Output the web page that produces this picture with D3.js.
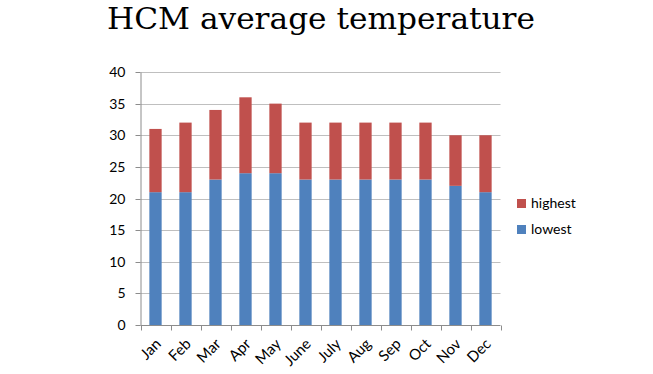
<!DOCTYPE html>
<html>
<head>
<meta charset="utf-8">
<script src="https://cdn.jsdelivr.net/npm/d3@7"></script>
<style>
  body { margin: 0; background: #fff; }
  text { font-family: Lato, "Liberation Sans", sans-serif; }
</style>
</head>
<body>
<script>
// chart data
var months = ["Jan", "Feb", "Mar", "Apr", "May", "June", "July", "Aug", "Sep", "Oct", "Nov", "Dec"];
var lowest = [21, 21, 23, 24, 24, 23, 23, 23, 23, 23, 22, 21];
var highest = [31, 32, 34, 36, 35, 32, 32, 32, 32, 32, 30, 30];
var yTicks = [0, 5, 10, 15, 20, 25, 30, 35, 40];

var width = 653,
    height = 374;

var svg = d3.select("body").append("svg")
    .attr("width", width)
    .attr("height", height);

// plot area
var plotLeft = 140.5, plotRight = 500.5, plotTop = 72, plotBottom = 325;

var x = d3.scaleBand()
    .domain(months)
    .range([plotLeft, plotRight])
    .paddingInner(0.59)
    .paddingOuter(0.295);

var y = d3.scaleLinear()
    .domain([0, 40])
    .range([plotBottom, plotTop]);

// title
svg.append("text")
    .attr("x", 321)
    .attr("y", 29)
    .attr("text-anchor", "middle")
    .style("font-family", "'DejaVu Serif', 'Liberation Serif', serif")
    .style("font-size", "30px")
    .attr("textLength", 428)
    .attr("lengthAdjust", "spacingAndGlyphs")
    .attr("fill", "#000")
    .text("HCM average temperature");

// gridlines
svg.append("g")
    .selectAll("line")
    .data(yTicks.filter(function(d){ return d > 0; }))
  .enter()
    .append("line")
    .attr("x1", plotLeft)
    .attr("x2", plotRight)
    .attr("y1", function(d){ return Math.round(y(d)) + 0.5; })
    .attr("y2", function(d){ return Math.round(y(d)) + 0.5; })
    .attr("stroke", "#bfbfbf")
    .attr("stroke-width", 1);

// y axis
var yAxis = svg.append("g")
    .attr("transform", "translate(" + plotLeft + ",0)")
    .call(d3.axisLeft(y).tickValues(yTicks).tickSize(5).tickSizeOuter(0).tickPadding(10));
yAxis.select(".domain").attr("stroke", "#8c8c8c");
yAxis.selectAll(".tick line").attr("stroke", "#8c8c8c");
yAxis.selectAll(".tick").attr("transform", function(d){
    return "translate(0," + (Math.round(y(d)) + 0.5) + ")";
});
yAxis.selectAll("text")
    .style("font-family", "Lato, 'Liberation Sans', sans-serif")
    .style("font-size", "14px")
    .attr("fill", "#000");

// stacked bars
var stackData = months.map(function(m, i){
    return { month: m, lowest: lowest[i], highest: highest[i] - lowest[i] };
});
var series = d3.stack().keys(["lowest", "highest"])(stackData);
var color = { lowest: "#4f81bd", highest: "#c0504d" };

svg.append("g")
    .selectAll("g")
    .data(series)
  .enter()
    .append("g")
    .attr("fill", function(d){ return color[d.key]; })
  .selectAll("rect")
    .data(function(d){ return d; })
  .enter()
    .append("rect")
    .attr("x", function(d){ return x(d.data.month); })
    .attr("width", x.bandwidth())
    .attr("y", function(d){ return y(d[1]); })
    .attr("height", function(d){ return y(d[0]) - y(d[1]); });

// x axis with ticks at category boundaries
var xAxis = svg.append("g")
    .attr("transform", "translate(0," + (plotBottom + 0.5) + ")");
xAxis.append("line")
    .attr("x1", plotLeft)
    .attr("x2", plotRight)
    .attr("stroke", "#8c8c8c");
var step = (plotRight - plotLeft) / months.length;
xAxis.selectAll("line.tick")
    .data(d3.range(months.length + 1))
  .enter()
    .append("line")
    .attr("class", "tick")
    .attr("x1", function(d){ return Math.round(plotLeft + d * step) + 0.5; })
    .attr("x2", function(d){ return Math.round(plotLeft + d * step) + 0.5; })
    .attr("y1", 0)
    .attr("y2", 5)
    .attr("stroke", "#8c8c8c");
xAxis.selectAll("text")
    .data(months)
  .enter()
    .append("text")
    .attr("transform", function(d){
        return "translate(" + (x(d) + x.bandwidth() / 2 - 1) + ",12) rotate(-45)";
    })
    .attr("text-anchor", "end")
    .attr("dy", "0.7em")
    .style("font-size", "15px")
    .attr("fill", "#000")
    .text(function(d){ return d; });

// legend
var legendKeys = ["highest", "lowest"];
var legend = svg.append("g")
    .selectAll("g")
    .data(legendKeys)
  .enter()
    .append("g")
    .attr("transform", function(d, i){ return "translate(517," + (199 + i * 26) + ")"; });
legend.append("rect")
    .attr("width", 9)
    .attr("height", 9)
    .attr("fill", function(d){ return color[d]; });
legend.append("text")
    .attr("x", 14)
    .attr("y", 9)
    .style("font-size", "14px")
    .attr("fill", "#000")
    .text(function(d){ return d; });
</script>
</body>
</html>
